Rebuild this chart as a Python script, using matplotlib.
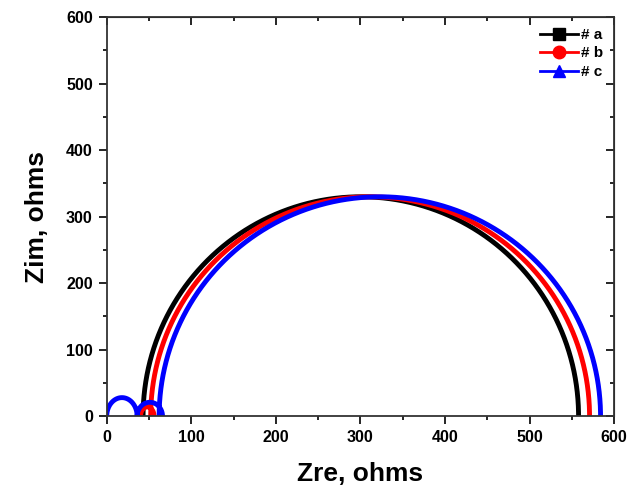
import numpy as np
import matplotlib.pyplot as plt

plt.rcParams['font.family'] = ['Liberation Sans', 'DejaVu Sans']
plt.rcParams['font.weight'] = 'bold'

# arcs: (start Zre, end Zre, height Zim)
arcs_a = [(43, 558, 330)]
arcs_b = [(40, 56, 14), (52, 571, 330)]
arcs_c = [(0, 36, 28), (36, 66, 21), (62, 584, 330)]

labels = ["# a", "# b", "# c"]
colors = ["black", "red", "blue"]
markers = ["s", "o", "^"]


def arc_points(arcs):
    xs, ys = [], []
    for x0, x1, h in arcs:
        t = np.linspace(np.pi, 0, 200)
        c = (x0 + x1) / 2
        r = (x1 - x0) / 2
        xs.append(c + r * np.cos(t))
        ys.append(h * np.sin(t))
    return np.concatenate(xs), np.concatenate(ys)


fig = plt.figure(figsize=(6.39, 4.92), dpi=100)
ax = fig.add_axes([0.167, 0.154, 0.794, 0.811])

for arcs, lab, col, mk in zip([arcs_a, arcs_b, arcs_c], labels, colors, markers):
    x, y = arc_points(arcs)
    ax.plot(x, y, color=col, lw=3.5, solid_capstyle='butt')
    ax.plot([], [], color=col, lw=2, marker=mk, markersize=9, label=lab)

ax.set_xlim(0, 600)
ax.set_ylim(0, 600)
major = np.arange(0, 601, 100)
minor = np.arange(50, 600, 100)
ax.set_xticks(major)
ax.set_yticks(major)
ax.set_xticks(minor, minor=True)
ax.set_yticks(minor, minor=True)
ax.tick_params(which='both', direction='out', width=1.2, labelsize=11.5, pad=4)
ax.tick_params(which='major', length=6)
ax.tick_params(which='minor', length=3)

# inward ticks on top and right
top = ax.secondary_xaxis('top')
right = ax.secondary_yaxis('right')
for sec in (top, right):
    sec.set_ticks(major)
    sec.set_ticks(minor, minor=True)
    sec.tick_params(which='both', direction='in', width=1.2, labelsize=0)
    sec.tick_params(which='major', length=6)
    sec.tick_params(which='minor', length=3)
top.set_xticklabels([])
right.set_yticklabels([])

for s in ax.spines.values():
    s.set_linewidth(1.3)
    s.set_color('#333333')

ax.set_xlabel("Zre, ohms", fontsize=19, fontweight='bold', labelpad=12)
ax.set_ylabel("Zim, ohms", fontsize=19, fontweight='bold', labelpad=12)

ax.legend(loc='upper right', frameon=False, fontsize=11, handlelength=2.5,
          handletextpad=0.2, labelspacing=0.3, borderaxespad=0.3)

fig.savefig("out.png", dpi=100)
